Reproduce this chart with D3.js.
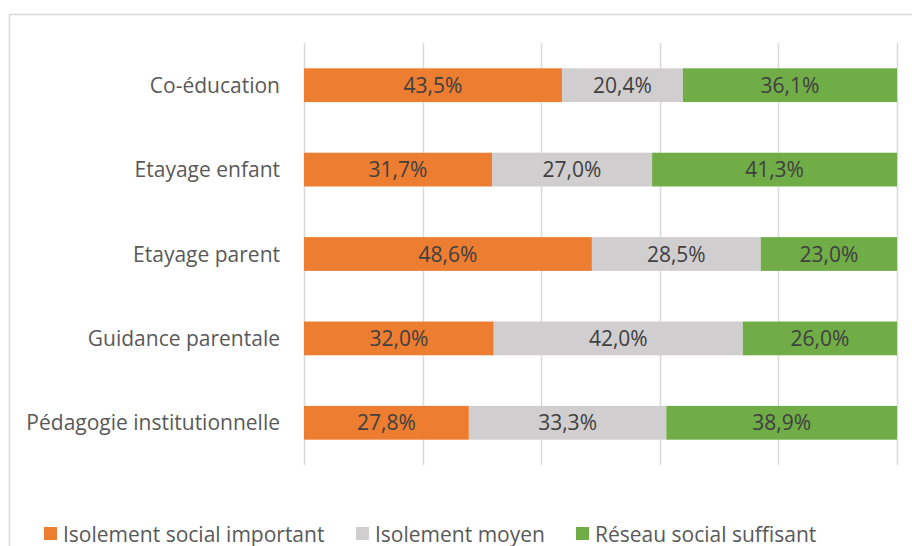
<!DOCTYPE html>
<html>
<head>
<meta charset="utf-8">
<script src="https://cdn.jsdelivr.net/npm/d3@7"></script>
<style>
  body { margin: 0; background: #fff; }
  svg { font-family: "Open Sans", Lato, sans-serif; }
</style>
</head>
<body>
<svg width="912" height="546"></svg>
<script>
var categories = ["Co-éducation", "Etayage enfant", "Etayage parent", "Guidance parentale", "Pédagogie institutionnelle"];
var seriesNames = ["Isolement social important", "Isolement moyen", "Réseau social suffisant"];
var important = [43.5, 31.7, 48.6, 32.0, 27.8];
var moyen = [20.4, 27.0, 28.5, 42.0, 33.3];
var suffisant = [36.1, 41.3, 23.0, 26.0, 38.9];
var ticks = [0, 0.2, 0.4, 0.6, 0.8, 1];
var colors = ["#ED7D31", "#D0CECE", "#70AD47"];

var svg = d3.select("svg");

// chart border
svg.append("rect")
    .attr("x", 9.5).attr("y", 14.5)
    .attr("width", 920).attr("height", 560)
    .attr("fill", "none")
    .attr("stroke", "#D9D9D9")
    .attr("stroke-width", 1.5);

var margin = {top: 43, left: 304};

var g = svg.append("g")
    .attr("transform", "translate(" + margin.left + "," + margin.top + ")");

var x = d3.scaleLinear().domain([0, 1]).range([0, 593]);
var y = d3.scaleBand().domain(categories).range([0, 422]).paddingInner(0.6).paddingOuter(0.3);

// gridlines
g.selectAll("line.grid")
    .data(ticks)
    .enter().append("line")
    .attr("class", "grid")
    .attr("x1", function(d) { return Math.round(x(d)) + 0.5; })
    .attr("x2", function(d) { return Math.round(x(d)) + 0.5; })
    .attr("y1", 0)
    .attr("y2", 422)
    .attr("stroke", "#D9D9D9")
    .attr("stroke-width", 1.5);

// build rows (100% stacked)
var rows = categories.map(function(c, i) {
    var vals = [important[i], moyen[i], suffisant[i]];
    var total = d3.sum(vals);
    var acc = 0;
    return vals.map(function(v, j) {
        var seg = {cat: c, s: j, v: v, x0: acc / total, x1: (acc + v) / total};
        acc += v;
        return seg;
    });
});
var segs = d3.merge(rows);

g.selectAll("rect.bar")
    .data(segs)
    .enter().append("rect")
    .attr("class", "bar")
    .attr("x", function(d) { return x(d.x0); })
    .attr("width", function(d) { return x(d.x1) - x(d.x0); })
    .attr("y", function(d) { return y(d.cat); })
    .attr("height", y.bandwidth())
    .attr("fill", function(d) { return colors[d.s]; });

g.selectAll("text.val")
    .data(segs)
    .enter().append("text")
    .attr("class", "val")
    .attr("x", function(d) { return (x(d.x0) + x(d.x1)) / 2; })
    .attr("y", function(d) { return y(d.cat) + y.bandwidth() / 2; })
    .attr("dy", "0.36em")
    .attr("text-anchor", "middle")
    .attr("fill", "#404040")
    .style("font-size", "21px")
    .text(function(d) { return d.v.toFixed(1).replace(".", ",") + "%"; });

// category labels
g.selectAll("text.cat")
    .data(categories)
    .enter().append("text")
    .attr("class", "cat")
    .attr("x", -24)
    .attr("y", function(d) { return y(d) + y.bandwidth() / 2; })
    .attr("dy", "0.36em")
    .attr("text-anchor", "end")
    .attr("fill", "#595959")
    .style("font-size", "21px")
    .text(function(d) { return d; });

// legend
var legendX = [44, 356, 576];
var legend = svg.selectAll("g.legend")
    .data(seriesNames)
    .enter().append("g")
    .attr("class", "legend")
    .attr("transform", function(d, i) { return "translate(" + legendX[i] + ",527)"; });
legend.append("rect")
    .attr("width", 13).attr("height", 13)
    .attr("fill", function(d, i) { return colors[i]; });
legend.append("text")
    .attr("x", 19)
    .attr("y", 7)
    .attr("dy", "0.36em")
    .attr("fill", "#595959")
    .style("font-size", "21px")
    .text(function(d) { return d; });
</script>
</body>
</html>
